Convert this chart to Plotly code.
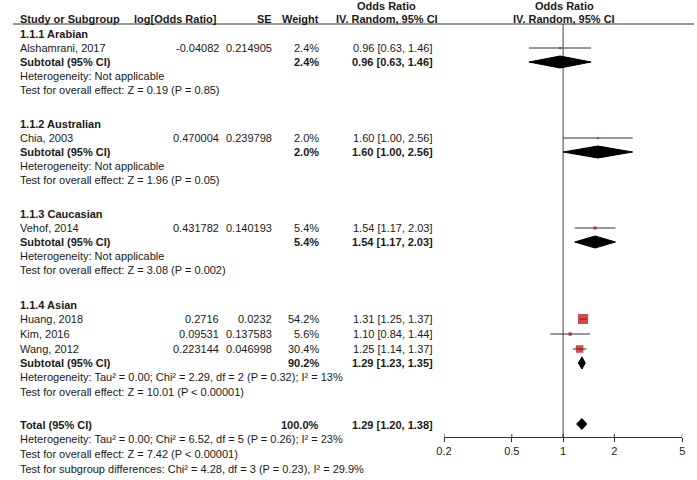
import math
import plotly.graph_objects as go

# ---------------- data ----------------
groups = ["1.1.1 Arabian", "1.1.2 Australian", "1.1.3 Caucasian", "1.1.4 Asian"]
studies = ["Alshamrani, 2017", "Chia, 2003", "Vehof, 2014", "Huang, 2018", "Kim, 2016", "Wang, 2012"]
study_group = [0, 1, 2, 3, 3, 3]
log_or = [-0.04082, 0.470004, 0.431782, 0.2716, 0.09531, 0.223144]
se = [0.214905, 0.239798, 0.140193, 0.0232, 0.137583, 0.046998]
weight = [2.4, 2.0, 5.4, 54.2, 5.6, 30.4]
odds = [0.96, 1.60, 1.54, 1.31, 1.10, 1.25]
ci_lo = [0.63, 1.00, 1.17, 1.25, 0.84, 1.14]
ci_hi = [1.46, 2.56, 2.03, 1.37, 1.44, 1.37]

sub_weight = [2.4, 2.0, 5.4, 90.2]
sub_odds = [0.96, 1.60, 1.54, 1.29]
sub_lo = [0.63, 1.00, 1.17, 1.23]
sub_hi = [1.46, 2.56, 2.03, 1.35]
sub_het = ["Heterogeneity: Not applicable",
           "Heterogeneity: Not applicable",
           "Heterogeneity: Not applicable",
           "Heterogeneity: Tau² = 0.00; Chi² = 2.29, df = 2 (P = 0.32); I² = 13%"]
sub_test = ["Test for overall effect: Z = 0.19 (P = 0.85)",
            "Test for overall effect: Z = 1.96 (P = 0.05)",
            "Test for overall effect: Z = 3.08 (P = 0.002)",
            "Test for overall effect: Z = 10.01 (P < 0.00001)"]

total_weight = 100.0
total_odds = 1.29
total_lo = 1.20
total_hi = 1.38
total_notes = ["Heterogeneity: Tau² = 0.00; Chi² = 6.52, df = 5 (P = 0.26); I² = 23%",
               "Test for overall effect: Z = 7.42 (P < 0.00001)",
               "Test for subgroup differences: Chi² = 4.28, df = 3 (P = 0.23), I² = 29.9%"]

tick_vals = [0.2, 0.5, 1, 2, 5]
tick_text = ["0.2", "0.5", "1", "2", "5"]

# ---------------- layout (reference pixel coordinates) ----------------
W, H = 697, 480

row_group = [34, 124, 214, 305]
row_study = [48, 138, 228, 319, 334, 349]
row_sub = [62, 152, 242, 363]
row_het = [76, 166, 256, 377]
row_test = [90, 180, 270, 392]
row_total = 425
row_total_notes = [439, 454, 469]
axis_y = 437
header_line_y = 24

X_NAME = 11
X_LOG = 215
X_SE = 269
X_W = 317
X_OR = 433
X_OR_HDR = 385
X_FOREST_HDR = 565
X_AX0, X_AX1 = 443, 685

FONT = "Arial, 'Liberation Sans', sans-serif"
FS = 11
TXT = "#1a1a1a"
RED = "#B80000"
LINE = "#333333"


def px(x):
    return x / W


fig = go.Figure()
ann = []


def txt(x, y, s, anchor="left", bold=False, size=FS):
    ann.append(dict(x=px(x), y=y, xref="paper", yref="y", text=("<b>%s</b>" % s) if bold else s,
                    showarrow=False, xanchor=anchor, yanchor="middle", borderpad=0,
                    font=dict(family=FONT, size=size, color=TXT)))


# headers
txt(X_NAME, 19, "Study or Subgroup", bold=True)
txt(213, 19, "log[Odds Ratio]", "right", bold=True)
txt(X_SE, 19, "SE", "right", bold=True)
txt(X_W, 19, "Weight", "right", bold=True)
txt(X_OR_HDR, 5.5, "Odds Ratio", "center", bold=True)
txt(X_OR_HDR, 19, "IV. Random, 95% CI", "center", bold=True)
txt(X_FOREST_HDR, 5.5, "Odds Ratio", "center", bold=True)
txt(X_FOREST_HDR, 19, "IV. Random, 95% CI", "center", bold=True)

# groups
for g, name in enumerate(groups):
    txt(X_NAME, row_group[g], name, bold=True)
    txt(X_NAME, row_sub[g], "Subtotal (95% CI)", bold=True)
    txt(X_W, row_sub[g], "%.1f%%" % sub_weight[g], "right", bold=True)
    txt(X_OR, row_sub[g], "%.2f [%.2f, %.2f]" % (sub_odds[g], sub_lo[g], sub_hi[g]), "right", bold=True)
    txt(X_NAME, row_het[g], sub_het[g])
    txt(X_NAME, row_test[g], sub_test[g])

for i, s in enumerate(studies):
    y = row_study[i]
    txt(X_NAME, y, s)
    txt(X_LOG, y, repr(log_or[i]), "right")
    txt(X_SE, y, repr(se[i]), "right")
    txt(X_W, y, "%.1f%%" % weight[i], "right")
    txt(X_OR, y, "%.2f [%.2f, %.2f]" % (odds[i], ci_lo[i], ci_hi[i]), "right")

txt(X_NAME, row_total, "Total (95% CI)", bold=True)
txt(X_W, row_total, "%.1f%%" % total_weight, "right", bold=True)
txt(X_OR, row_total, "%.2f [%.2f, %.2f]" % (total_odds, total_lo, total_hi), "right", bold=True)
for k, note in enumerate(total_notes):
    txt(X_NAME, row_total_notes[k], note)

# reference line at OR = 1
fig.add_trace(go.Scatter(x=[1, 1], y=[header_line_y, axis_y], mode="lines",
                         line=dict(color="#444444", width=1), hoverinfo="skip"))

# CI lines
cx, cy = [], []
for i in range(len(studies)):
    cx += [ci_lo[i], ci_hi[i], None]
    cy += [row_study[i], row_study[i], None]
fig.add_trace(go.Scatter(x=cx, y=cy, mode="lines", line=dict(color=LINE, width=1), hoverinfo="skip"))

# squares sized by weight
sizes = [max(2.0, 1.38 * math.sqrt(w)) for w in weight]
fig.add_trace(go.Scatter(x=odds, y=row_study, mode="markers",
                         marker=dict(symbol="square", size=sizes, color=RED, line=dict(width=0)),
                         hoverinfo="skip"))


# diamonds
def diamond(o, l, h, y, half):
    fig.add_trace(go.Scatter(x=[l, o, h, o, l], y=[y, y - half, y, y + half, y], mode="lines",
                             fill="toself", fillcolor="black", line=dict(color="black", width=1),
                             hoverinfo="skip"))


for g in range(len(groups)):
    diamond(sub_odds[g], sub_lo[g], sub_hi[g], row_sub[g], 6)
diamond(total_odds, total_lo, total_hi, row_total - 1, 5.5)

# upward half of tick marks
tx, ty = [], []
for t in tick_vals:
    tx += [t, t, None]
    ty += [axis_y, axis_y - 3, None]
fig.add_trace(go.Scatter(x=tx, y=ty, mode="lines", line=dict(color=LINE, width=1), hoverinfo="skip"))

# header line
fig.add_shape(type="line", xref="paper", yref="y", x0=px(5), x1=1, y0=header_line_y, y1=header_line_y,
              line=dict(color="#333333", width=1.2))

fig.update_layout(
    width=W, height=H, margin=dict(l=0, r=0, t=0, b=0),
    paper_bgcolor="white", plot_bgcolor="rgba(0,0,0,0)",
    showlegend=False, annotations=ann,
    xaxis=dict(type="log", domain=[px(X_AX0), px(X_AX1)], range=[math.log10(0.2), math.log10(5)],
               anchor="free", position=1 - axis_y / H,
               tickvals=tick_vals, ticktext=tick_text, ticks="outside", ticklen=4, tickwidth=1,
               tickcolor=LINE, showline=True, linecolor=LINE, linewidth=1, showgrid=False,
               zeroline=False, tickfont=dict(family=FONT, size=FS, color=TXT), fixedrange=True),
    yaxis=dict(range=[H, 0], domain=[0, 1], visible=False, showgrid=False, zeroline=False,
               fixedrange=True),
)

fig.write_html("out.html", config={"displayModeBar": False},
               post_script="document.body.style.margin='0';document.body.style.overflow='hidden';")
